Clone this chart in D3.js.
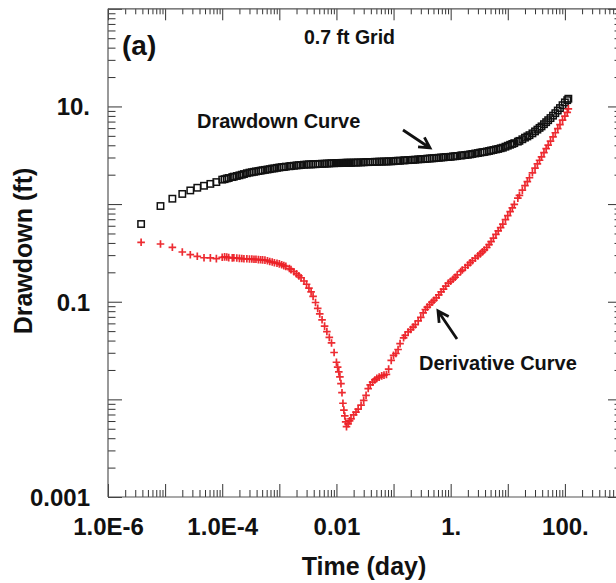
<!DOCTYPE html>
<html>
<head>
<meta charset="utf-8">
<script src="https://cdn.jsdelivr.net/npm/d3@7"></script>
<style>
  body { margin: 0; background: #fff; }
  svg { display: block; }
  text { font-family: "Liberation Sans", Arial, Helvetica, sans-serif; font-weight: bold; fill: #111; }
</style>
</head>
<body>
<svg id="chart" width="616" height="583"></svg>
<script>
// Pumping-test record: elapsed time (day), drawdown (ft) and its log-derivative (ft)
const time = [
  3.8e-6, 8.3e-6, 1.34e-5, 2.0e-5, 2.76e-5, 3.66e-5, 4.8e-5, 6.2e-5, 7.9e-5,
  1.0e-4, 1.1e-4, 1.2e-4, 1.3e-4, 1.5e-4, 1.6e-4, 1.8e-4, 2.0e-4, 2.2e-4, 2.4e-4, 2.7e-4, 3.0e-4,
  3.3e-4, 3.6e-4, 3.9e-4, 4.3e-4, 4.7e-4, 5.1e-4, 5.6e-4, 6.2e-4, 6.8e-4, 7.5e-4, 8.2e-4, 9.1e-4,
  1.0e-3, 1.1e-3, 1.2e-3, 1.3e-3, 1.5e-3, 1.6e-3, 1.8e-3, 2.0e-3, 2.2e-3, 2.4e-3, 2.7e-3, 3.0e-3,
  3.3e-3, 3.6e-3, 3.9e-3, 4.3e-3, 4.7e-3, 5.1e-3, 5.6e-3, 6.2e-3, 6.8e-3, 7.5e-3, 8.2e-3, 9.1e-3,
  0.010, 0.0105, 0.011, 0.0115, 0.012, 0.0125, 0.013, 0.0135, 0.014, 0.0145, 0.015, 0.016, 0.017,
  0.018, 0.020, 0.022, 0.024, 0.027, 0.030, 0.033, 0.036, 0.039, 0.043, 0.047, 0.051, 0.056, 0.062,
  0.068, 0.075, 0.082, 0.091,
  0.10, 0.11, 0.12, 0.13, 0.15, 0.16, 0.18, 0.20, 0.22, 0.24, 0.27, 0.30,
  0.33, 0.36, 0.39, 0.43, 0.47, 0.51, 0.56, 0.62, 0.68, 0.75, 0.82, 0.91,
  1.0, 1.1, 1.2, 1.3, 1.5, 1.6, 1.8, 2.0, 2.2, 2.4, 2.7, 3.0,
  3.3, 3.6, 3.9, 4.3, 4.7, 5.1, 5.6, 6.2, 6.8, 7.5, 8.2, 9.1,
  10, 11, 12, 13, 15, 16, 18, 20, 22, 24, 27, 30,
  33, 36, 39, 43, 47, 51, 56, 62, 68, 75, 82, 91,
  100, 110, 115
];

const drawdown = [
  0.625, 0.955, 1.135, 1.27, 1.38, 1.47, 1.54, 1.61, 1.68,
  1.78, 1.80, 1.83, 1.85, 1.89, 1.91, 1.94, 1.97, 2.00, 2.03, 2.07, 2.10,
  2.12, 2.14, 2.16, 2.18, 2.20, 2.22, 2.24, 2.26, 2.28, 2.31, 2.32, 2.35,
  2.37, 2.39, 2.40, 2.42, 2.44, 2.45, 2.47, 2.49, 2.50, 2.51, 2.53, 2.54,
  2.55, 2.55, 2.56, 2.56, 2.57, 2.58, 2.59, 2.59, 2.60, 2.61, 2.62, 2.62,
  2.63, 2.63, 2.63, 2.63, 2.64, 2.64, 2.64, 2.64, 2.64, 2.64, 2.65, 2.65, 2.65,
  2.65, 2.66, 2.66, 2.67, 2.67, 2.68, 2.69, 2.69, 2.70, 2.70, 2.71, 2.71, 2.72, 2.72,
  2.73, 2.73, 2.74, 2.74,
  2.75, 2.77, 2.78, 2.78, 2.80, 2.81, 2.82, 2.83, 2.84, 2.85, 2.87, 2.88,
  2.89, 2.90, 2.92, 2.93, 2.94, 2.95, 2.97, 2.98, 3.00, 3.01, 3.03, 3.04,
  3.05, 3.08, 3.09, 3.11, 3.14, 3.16, 3.18, 3.20, 3.23, 3.26, 3.30, 3.33,
  3.37, 3.40, 3.42, 3.46, 3.50, 3.54, 3.58, 3.63, 3.67, 3.73, 3.78, 3.87,
  3.96, 4.05, 4.13, 4.21, 4.36, 4.44, 4.61, 4.79, 4.93, 5.08, 5.30, 5.55,
  5.79, 6.03, 6.25, 6.58, 6.90, 7.23, 7.60, 8.05, 8.53, 9.08, 9.62, 10.3,
  11.0, 11.6, 12.0
];

const derivative = [
  0.406, 0.390, 0.361, 0.323, 0.303, 0.292, 0.282, 0.281, 0.276,
  0.285, 0.288, 0.287, 0.283, 0.281, 0.282, 0.280, 0.278, 0.277, 0.275, 0.275, 0.274,
  0.274, 0.272, 0.272, 0.270, 0.269, 0.268, 0.267, 0.263, 0.258, 0.255, 0.251, 0.248,
  0.244, 0.239, 0.234, 0.230, 0.219, 0.213, 0.203, 0.193, 0.184, 0.176, 0.163, 0.151,
  0.138, 0.126, 0.1135, 0.0982, 0.0855, 0.0750, 0.0653, 0.0562, 0.0495, 0.0431, 0.0378, 0.0302,
  0.0240, 0.0214, 0.0191, 0.0170, 0.0145, 0.0117, 0.00912, 0.00776, 0.00676, 0.00589, 0.00525, 0.00562, 0.00603,
  0.00631, 0.00692, 0.00741, 0.00794, 0.00871, 0.00977, 0.0110, 0.0129, 0.0141, 0.0150, 0.0158, 0.0164, 0.0169, 0.0174,
  0.0177, 0.0180, 0.0204, 0.0251,
  0.0282, 0.0295, 0.0324, 0.0372, 0.0427, 0.0452, 0.0490, 0.0519, 0.0550, 0.0582, 0.0638, 0.0692,
  0.0767, 0.0832, 0.0881, 0.0933, 0.0989, 0.1035, 0.1096, 0.1175, 0.1259, 0.1349, 0.1445, 0.1549,
  0.162, 0.170, 0.178, 0.188, 0.204, 0.211, 0.224, 0.237, 0.251, 0.263, 0.279, 0.295,
  0.309, 0.324, 0.339, 0.359, 0.385, 0.412, 0.447, 0.490, 0.531, 0.575, 0.624, 0.692,
  0.762, 0.838, 0.916, 0.995, 1.151, 1.230, 1.387, 1.545, 1.70, 1.86, 2.09, 2.33,
  2.58, 2.81, 3.05, 3.37, 3.69, 4.02, 4.42, 4.89, 5.38, 5.94, 6.52, 7.24,
  7.94, 8.71, 9.44
];

// Labelled decades on each axis
const xTickValues = [1e-6, 1e-4, 1e-2, 1, 100];
const xTickLabels = ["1.0E-6", "1.0E-4", "0.01", "1.", "100."];
const yTickValues = [1e-3, 1e-1, 10];
const yTickLabels = ["0.001", "0.1", "10."];

const panelLabel = "(a)";
const gridNote = "0.7 ft Grid";
const xTitle = "Time (day)";
const yTitle = "Drawdown (ft)";

// ---- layout ----
const plotLeft = 108, plotRight = 622, plotTop = 8.8, plotBottom = 497;
const svg = d3.select("#chart");

const x = d3.scaleLog().domain([1e-6, 1e3]).range([plotLeft, plotRight]);
const y = d3.scaleLog().domain([1e-3, 1e2]).range([plotBottom, plotTop]);

const isDecade = v => Math.abs(Math.log10(v) - Math.round(Math.log10(v))) < 1e-9;
const xAll = x.ticks(30), yAll = y.ticks(30);
const xMajor = xAll.filter(isDecade), xMinor = xAll.filter(v => !isDecade(v));
const yMajor = yAll.filter(isDecade), yMinor = yAll.filter(v => !isDecade(v));

const tickColor = "#333";
function styleAxis(g) {
  g.select(".domain").remove();
  g.selectAll(".tick line").attr("stroke", tickColor).attr("stroke-width", 1);
}
const labelFor = (vals, labels) => d => {
  const i = vals.findIndex(v => Math.abs(Math.log10(v) - Math.log10(d)) < 1e-9);
  return i >= 0 ? labels[i] : "";
};

// bottom axis
svg.append("g").attr("transform", `translate(0,${plotBottom})`)
  .call(d3.axisBottom(x).tickValues(xMinor).tickSizeInner(-7).tickSizeOuter(0).tickFormat(""))
  .call(styleAxis);
const xAxisG = svg.append("g").attr("transform", `translate(0,${plotBottom})`)
  .call(d3.axisBottom(x).tickValues(xMajor).tickSizeInner(-13).tickSizeOuter(0).tickPadding(21)
    .tickFormat(labelFor(xTickValues, xTickLabels)))
  .call(styleAxis);
xAxisG.selectAll("text").attr("font-size", 24).attr("fill", "#111")
  .attr("font-family", "Liberation Sans, Arial, sans-serif").attr("font-weight", "bold");

// top axis
svg.append("g").attr("transform", `translate(0,${plotTop})`)
  .call(d3.axisTop(x).tickValues(xMinor).tickSizeInner(-5.5).tickSizeOuter(0).tickFormat(""))
  .call(styleAxis);
svg.append("g").attr("transform", `translate(0,${plotTop})`)
  .call(d3.axisTop(x).tickValues(xMajor).tickSizeInner(-11.5).tickSizeOuter(0).tickFormat(""))
  .call(styleAxis);

// left axis
svg.append("g").attr("transform", `translate(${plotLeft},0)`)
  .call(d3.axisLeft(y).tickValues(yMinor).tickSizeInner(-7.5).tickSizeOuter(0).tickFormat(""))
  .call(styleAxis);
const yAxisG = svg.append("g").attr("transform", `translate(${plotLeft},0)`)
  .call(d3.axisLeft(y).tickValues(yMajor).tickSizeInner(-14).tickSizeOuter(0).tickPadding(18)
    .tickFormat(labelFor(yTickValues, yTickLabels)))
  .call(styleAxis);
yAxisG.selectAll("text").attr("font-size", 24).attr("fill", "#111").attr("dy", "0.35em")
  .attr("font-family", "Liberation Sans, Arial, sans-serif").attr("font-weight", "bold");

// right axis
svg.append("g").attr("transform", `translate(${plotRight},0)`)
  .call(d3.axisRight(y).tickValues(yMinor).tickSizeInner(-7.5).tickSizeOuter(0).tickFormat(""))
  .call(styleAxis);
svg.append("g").attr("transform", `translate(${plotRight},0)`)
  .call(d3.axisRight(y).tickValues(yMajor).tickSizeInner(-14).tickSizeOuter(0).tickFormat(""))
  .call(styleAxis);

// frame
const frame = svg.append("g").attr("stroke", "#555").attr("stroke-width", 1.2).attr("fill", "none");
frame.append("line").attr("x1", plotLeft).attr("x2", plotLeft).attr("y1", plotTop).attr("y2", plotBottom);
frame.append("line").attr("x1", plotLeft).attr("x2", plotRight).attr("y1", plotBottom).attr("y2", plotBottom);
frame.append("line").attr("x1", plotLeft).attr("x2", plotRight).attr("y1", plotTop).attr("y2", plotTop);
frame.append("line").attr("x1", plotRight).attr("x2", plotRight).attr("y1", plotTop).attr("y2", plotBottom);

// ---- data ----
const n = Math.min(time.length, drawdown.length, derivative.length);
const rows = d3.range(n).map(i => ({ t: time[i], s: drawdown[i], d: derivative[i] }));

// drawdown: open squares
const sq = 6.4;
svg.append("g").selectAll("rect").data(rows).join("rect")
  .attr("x", r => x(r.t) - sq / 2).attr("y", r => y(r.s) - sq / 2)
  .attr("width", sq).attr("height", sq)
  .attr("fill", "none").attr("stroke", "#111").attr("stroke-width", 1.5);

// derivative: red plus signs
const ph = 3.8;
svg.append("g").selectAll("path").data(rows).join("path")
  .attr("d", r => {
    const cx = x(r.t), cy = y(r.d);
    return `M${cx - ph},${cy}H${cx + ph}M${cx},${cy - ph}V${cy + ph}`;
  })
  .attr("fill", "none").attr("stroke", "#ec2127").attr("stroke-width", 1.7).attr("stroke-opacity", 0.95);

// ---- annotations ----
svg.append("text").attr("x", 122).attr("y", 55).attr("font-size", 28).text(panelLabel);
svg.append("text").attr("x", 304).attr("y", 44).attr("font-size", 19.5).text(gridNote);
svg.append("text").attr("x", 197).attr("y", 128).attr("font-size", 20).text("Drawdown Curve");
svg.append("text").attr("x", 419).attr("y", 370).attr("font-size", 20).text("Derivative Curve");

function arrow(x0, y0, x1, y1) {
  const a = Math.atan2(y1 - y0, x1 - x0), L = 12, spread = 0.5;
  const p1 = [x1 - L * Math.cos(a - spread), y1 - L * Math.sin(a - spread)];
  const p2 = [x1 - L * Math.cos(a + spread), y1 - L * Math.sin(a + spread)];
  svg.append("path")
    .attr("d", `M${x0},${y0}L${x1},${y1}M${p1[0]},${p1[1]}L${x1},${y1}L${p2[0]},${p2[1]}`)
    .attr("fill", "none").attr("stroke", "#111").attr("stroke-width", 2.8)
    .attr("stroke-linecap", "butt").attr("stroke-linejoin", "miter");
}
arrow(403, 130, 430, 148);
arrow(457, 339, 438, 311);

// axis titles
svg.append("text").attr("x", 364).attr("y", 575).attr("text-anchor", "middle")
  .attr("font-size", 25).text(xTitle);
svg.append("text").attr("transform", "translate(32,251) rotate(-90)").attr("text-anchor", "middle")
  .attr("font-size", 25).text(yTitle);
</script>
</body>
</html>
